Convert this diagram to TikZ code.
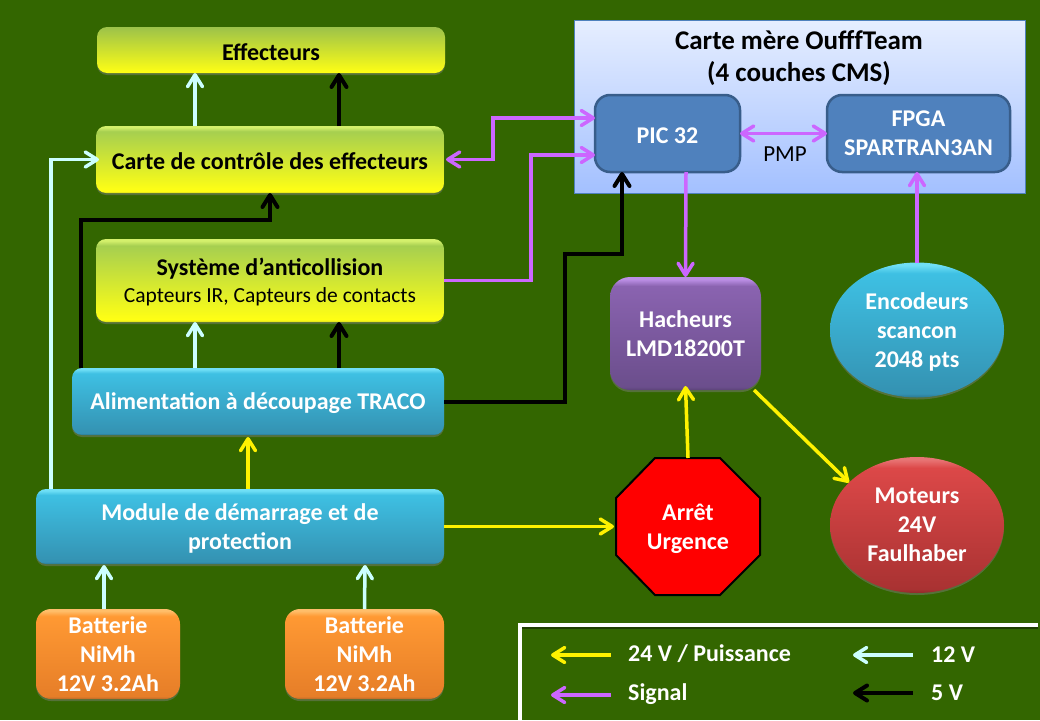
\documentclass[tikz,border=0pt]{standalone}
\usepackage{fontspec}
\setmainfont{Carlito}
\usetikzlibrary{arrows.meta,shapes.geometric,shadows}
\definecolor{bgreen}{HTML}{336600}
\definecolor{linelight}{HTML}{CCFFFF}
\definecolor{linesignal}{HTML}{CC66FF}
\newcommand{\defgloss}[5]{\pgfdeclareverticalshading{#1}{100bp}{%
	color(0bp)=(#5); color(25bp)=(#5); color(26.5bp)=(#4); color(71bp)=(#3); color(74bp)=(#2); color(100bp)=(#2)}}
\definecolor{yrim}{HTML}{D4F06C}\definecolor{ytop}{HTML}{A6CF50}\definecolor{ybot}{HTML}{FFFF14}\definecolor{ylow}{HTML}{D6D820}
\definecolor{yflat}{HTML}{9CC24A}
\definecolor{brim}{HTML}{70DFF6}\definecolor{btop}{HTML}{3EC0E3}\definecolor{bbot}{HTML}{3492B2}\definecolor{blow}{HTML}{2A7892}
\definecolor{orim}{HTML}{FFBE6A}\definecolor{otop}{HTML}{FF9933}\definecolor{obot}{HTML}{E67E28}\definecolor{olow}{HTML}{B9692A}
\definecolor{prim}{HTML}{BC8FE6}\definecolor{ptop}{HTML}{8A63B0}\definecolor{pbot}{HTML}{6B4E8C}\definecolor{plow}{HTML}{5C4378}
\definecolor{rrim}{HTML}{E87474}\definecolor{rtop}{HTML}{DC4848}\definecolor{rbot}{HTML}{A93232}\definecolor{rlow}{HTML}{8F2A2A}
\definecolor{chipline}{HTML}{385D8A}
\definecolor{chipfill}{HTML}{4F81BD}
\definecolor{boardtop}{HTML}{E6EEFF}
\definecolor{boardbot}{HTML}{A3C0FF}
\defgloss{glossyellow}{yrim}{ytop}{ybot}{ylow}
\defgloss{glossblue}{brim}{btop}{bbot}{blow}
\defgloss{glossorange}{orim}{otop}{obot}{olow}
\defgloss{glosspurple}{prim}{ptop}{pbot}{plow}
\defgloss{glossred}{rrim}{rtop}{rbot}{rlow}
\tikzset{
	>={Straight Barb[round,length=12pt,width=15pt]},
	boxtext/.style={inner sep=0pt,outer sep=0pt,align=center,font=\bfseries\fontsize{24}{29}\selectfont,execute at begin node={\rule{0pt}{21pt}}},
	multiline/.style={text depth=-1.5pt},
	basebox/.style={boxtext,drop shadow={shadow xshift=0pt,shadow yshift=-2pt,opacity=.45}},
	yellowbox/.style={basebox,rectangle,rounded corners=10pt,shading=glossyellow,text=black},
	bluebox/.style={basebox,rectangle,rounded corners=10pt,shading=glossblue,text=white},
	orangebox/.style={basebox,multiline,rectangle,rounded corners=15pt,shading=glossorange,text=white},
	chipbox/.style={boxtext,rectangle,rounded corners=15pt,draw=chipline,line width=2.5pt,fill=chipfill,text=white},
	sig24/.style={draw=yellow,line width=3.5pt,->},
	sig12/.style={draw=linelight,line width=3.5pt,->},
	sig5/.style={draw=black,line width=4pt,->},
	sigdata/.style={draw=linesignal,line width=3.5pt,->},
	legtext/.style={anchor=west,inner sep=0pt,text=white,font=\bfseries\fontsize{24}{26}\selectfont},
}
\begin{document}
\begin{tikzpicture}[x=1pt,y=-1pt]
	\fill[bgreen] (0,0) rectangle (1040,720);
	\useasboundingbox (0,0) rectangle (1040,720);

	\node[yellowbox,shading=axis,top color=yflat,bottom color=ybot,minimum width=348pt,minimum height=46pt] (effect) at (271,50) {Effecteurs};
	\node[yellowbox,minimum width=348pt,minimum height=67pt] (carte) at (270,159.5) {Carte de contrôle des effecteurs};
	\node[yellowbox,multiline,minimum width=348pt,minimum height=83pt] (syst) at (270,280.5) {Système d’anticollision\\[-2pt]{\mdseries\fontsize{21.5}{24}\selectfont Capteurs IR, Capteurs de contacts}};
	\node[bluebox,minimum width=372pt,minimum height=67pt] (alim) at (258,401.5) {Alimentation à découpage TRACO};
	\node[bluebox,multiline,minimum width=408pt,minimum height=75pt] (module) at (240,526.5) {Module de démarrage et de\\protection};
	\node[orangebox,minimum width=144pt,minimum height=90pt] (batta) at (108,654) {Batterie\\NiMh\\12V 3.2Ah};
	\node[orangebox,minimum width=159pt,minimum height=90pt] (battb) at (364.5,654) {Batterie\\NiMh\\12V 3.2Ah};

	\node[rectangle,draw=chipfill,line width=1pt,top color=boardtop,bottom color=boardbot,minimum width=451pt,minimum height=173pt,inner sep=0pt,outer sep=0pt,
		drop shadow={shadow xshift=1pt,shadow yshift=-1pt,opacity=.5}] (board) at (799.5,106.5) {};
	\node[anchor=north,inner sep=0pt,align=center,font=\bfseries\fontsize{27}{32}\selectfont] (boardtxt) at (799,30.5) {Carte mère OufffTeam\\(4 couches CMS)};
	\node[chipbox,minimum width=145pt,minimum height=77pt] (pic) at (667.5,133.5) {PIC 32};
	\node[chipbox,multiline,minimum width=183pt,minimum height=77pt] (fpga) at (918.5,133.5) {FPGA\\SPARTRAN3AN};
	\node[inner sep=0pt,font=\fontsize{23}{26}\selectfont] (pmp) at (785,154) {PMP};

	\node[basebox,multiline,rectangle,rounded corners=20pt,shading=glosspurple,text=white,minimum width=151pt,minimum height=113pt] (hach) at (685.5,333.5) {Hacheurs\\LMD18200T};
	\node[basebox,multiline,ellipse,shading=glossblue,text=white,minimum width=174pt,minimum height=135pt] (enco) at (917,330) {Encodeurs\\scancon\\2048 pts};
	\node[basebox,multiline,ellipse,shading=glossred,text=white,minimum width=174pt,minimum height=136pt] (moteur) at (917,525) {Moteurs\\24V\\Faulhaber};
	\draw[black,line width=2pt,fill=red] (655,458) -- (720,458) -- (760,498) -- (760,555) -- (720,595) -- (655,595) -- (616,555) -- (616,498) -- cycle;
	\node[boxtext,multiline,rectangle,text=white,minimum width=144pt,minimum height=137pt] (arret) at (688,526.5) {Arrêt\\Urgence};

	\draw[sig12] ([xshift=-75pt]carte.north) -- ([xshift=-76pt]effect.south);
	\draw[sig5] ([xshift=69pt]carte.north) -- ([xshift=68pt]effect.south);
	\draw[sig12] ([xshift=-63pt]alim.north) -- ([xshift=-75pt]syst.south);
	\draw[sig5] ([xshift=81pt]alim.north) -- ([xshift=69pt]syst.south);
	\draw[sig5] ([xshift=9pt]alim.north west) |- ([yshift=-27pt]carte.south) -- (carte.south);
	\draw[sig12,shorten >=-3pt] ([xshift=15pt]module.north west) |- (carte.west);
	\draw[sig24] ([xshift=8pt]module.north) -- ([xshift=-10pt,yshift=-2pt]alim.south);
	\draw[sig12] ([xshift=-4pt]batta.north) -- ([xshift=-136pt,yshift=-1pt]module.south);
	\draw[sig12] (battb.north) -- ([xshift=125pt,yshift=-1pt]module.south);
	\draw[sigdata,<->] ([xshift=2pt]carte.east) -- ++(47,0) |- ([yshift=15.5pt]pic.west);
	\draw[sigdata] (syst.east) -- ++(87,0) |- ([yshift=-21.5pt]pic.west);
	\draw[sig5] (alim.east) -- ++(121,0) |- ([xshift=-45.5pt,yshift=-82pt]pic.south) -- ([xshift=-45.5pt]pic.south);
	\draw[sigdata,<->] (pic.east) -- (fpga.west);
	\draw[sigdata] ([xshift=18.5pt]pic.south) -- (hach.north);
	\draw[sigdata] (enco.north) -- (enco.north |- fpga.south);
	\draw[sig24] (arret.north) -- ([yshift=4pt]hach.south);
	\draw[sig24] (module.east) -- ([xshift=-2pt]arret.west);
	\draw[sig24] ([xshift=-7pt]hach.south east) -- (moteur.148);

	\draw[white,line width=4pt] (520,720) -- (520,624.5) -- (1038,624.5);
	\draw[black!20!bgreen!75!black,line width=2pt] (522,628) -- (1038,628);
	\node[legtext] (lega) at (628,654) {24 V / Puissance};
	\node[legtext] (legb) at (628,694) {Signal};
	\node[legtext] (legc) at (931,655) {12 V};
	\node[legtext] (legd) at (931,693) {5 V};
	\draw[sig24] ([xshift=-17pt,yshift=-1pt]lega.west) -- ++(-60,0);
	\draw[sigdata] ([xshift=-17pt,yshift=-1pt]legb.west) -- ++(-60,0);
	\draw[sig12] ([xshift=-18pt]legc.west) -- ++(-60,0);
	\draw[sig5] ([xshift=-18pt]legd.west) -- ++(-60,0);
\end{tikzpicture}
\end{document}
